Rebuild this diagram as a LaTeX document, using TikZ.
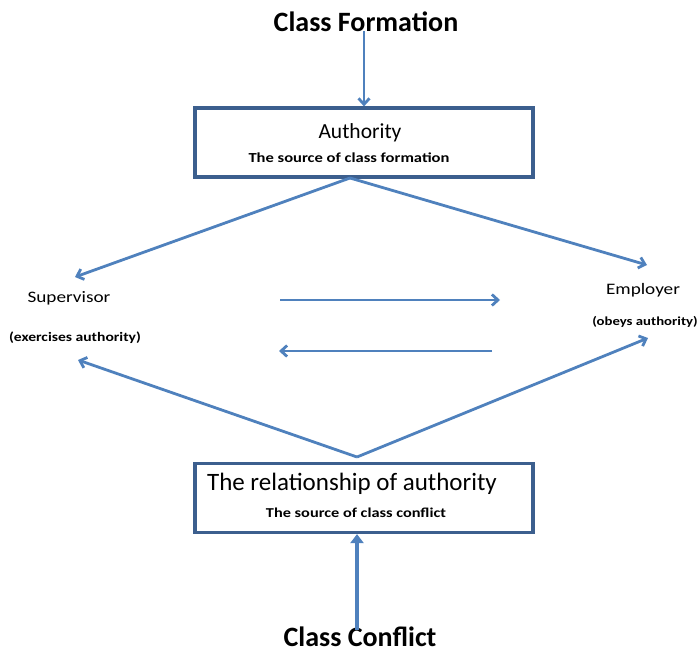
\documentclass[tikz,border=0pt]{standalone}
\usepackage{fontspec}
\setmainfont{Carlito}
\newfontfamily\widefont[FakeStretch=1.2]{Carlito}
\usetikzlibrary{arrows.meta}
\definecolor{linkblue}{HTML}{4F81BD}
\definecolor{boxblue}{HTML}{3C5F8E}

\begin{document}
\begin{tikzpicture}[x=1pt, y=-1pt, font=\bfseries,
	link/.style={draw=linkblue, line width=2.8pt, -{Straight Barb[length=6pt,width=11pt]}},
	frame/.style={draw=boxblue, line width=3.2pt, minimum width=338pt, minimum height=69pt}]
	\useasboundingbox (0,0) rectangle (699,656);
	\node (formation) at (366,22) {\fontsize{28}{30}\selectfont Class Formation};
	\node[frame] (authority) at (364,142.5) {};
	\node (authtitle) at (360,133) {\fontsize{21.5}{24}\selectfont\mdseries Authority};
	\node (authsub) at (349,158) {\widefont\fontsize{13.8}{16}\selectfont The source of class formation};
	\node (supervisor) at (69,298) {\widefont\fontsize{16}{18}\selectfont\mdseries Supervisor};
	\node (exercises) at (75,338) {\widefont\fontsize{13}{15}\selectfont (exercises authority)};
	\node (employer) at (643,290) {\widefont\fontsize{16}{18}\selectfont\mdseries Employer};
	\node (obeys) at (645,322) {\widefont\fontsize{12.3}{14}\selectfont (obeys authority)};
	\node[frame] (relation) at (364,498) {};
	\node (reltitle) at (352,484) {\fontsize{25}{28}\selectfont\mdseries The relationship of authority};
	\node (relsub) at (356,513) {\widefont\fontsize{13.6}{15}\selectfont The source of class conflict};
	\node (conflict) at (360,637) {\fontsize{28}{30}\selectfont Class Conflict};
	\coordinate (topapex) at (350,178);
	\coordinate (botapex) at (357,457);
	\coordinate (supin) at (75,277);
	\coordinate (supout) at (78,360);
	\coordinate (empin) at (647,265);
	\coordinate (empout) at (648,338);
	\coordinate (fwdstart) at (280,300);
	\coordinate (fwdend) at (500,300);
	\coordinate (backstart) at (492,351);
	\coordinate (backend) at (279,351);
	\draw[link] (formation.south -| authority.north) ++(0,-4) -- (authority.north);
	\draw[link] (topapex) -- (supin);
	\draw[link] (topapex) -- (empin);
	\draw[link] (fwdstart) -- (fwdend);
	\draw[link] (backstart) -- (backend);
	\draw[link] (botapex) -- (supout);
	\draw[link] (botapex) -- (empout);
	\draw[draw=linkblue, line width=4pt, -{Triangle[length=9pt,width=13pt]}] (conflict.north -| relation.south) ++(-7,6) coordinate (upstart) -- (upstart |- relation.south);
\end{tikzpicture}
\end{document}
